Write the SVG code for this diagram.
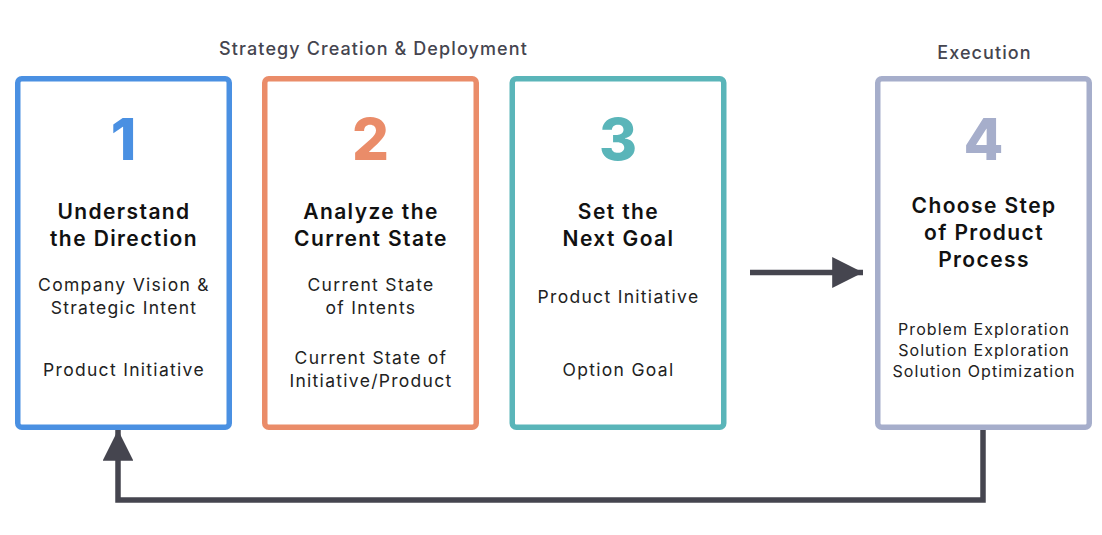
<svg xmlns="http://www.w3.org/2000/svg" width="1102" height="535" viewBox="0 0 1102 535">
  <style>
    .box { fill: #ffffff; stroke-width: 5.5; }
    .hdr { font-family: Inter, "Liberation Sans", sans-serif; font-size: 18px; font-weight: 500; fill: #45454f; text-anchor: middle; letter-spacing: 1.1px; }
    .num { font-family: Inter, "Liberation Sans", sans-serif; font-size: 58px; font-weight: 800; text-anchor: middle; }
    .ttl { font-family: Inter, "Liberation Sans", sans-serif; font-size: 21px; font-weight: 600; fill: #111111; text-anchor: middle; letter-spacing: 1.4px; }
    .body { font-family: Inter, "Liberation Sans", sans-serif; font-size: 17.5px; font-weight: 400; fill: #222222; text-anchor: middle; letter-spacing: 1.3px; }
    .sm { font-family: Inter, "Liberation Sans", sans-serif; font-size: 16px; font-weight: 400; fill: #222222; text-anchor: middle; letter-spacing: 1.05px; }
    .conn { fill: none; stroke: #45454f; stroke-width: 5.5; }
  </style>
  <defs>
    <marker id="arrow" viewBox="0 0 10 10" refX="10" refY="5" markerWidth="5.6" markerHeight="5.6" markerUnits="strokeWidth" orient="auto">
      <path d="M0,0 L10,5 L0,10 Z" fill="#45454f"/>
    </marker>
  </defs>

  <text class="hdr" x="373.5" y="55">Strategy Creation &amp; Deployment</text>
  <text class="hdr" x="984.5" y="59">Execution</text>

  <g id="node1">
    <rect class="box" x="17.75" y="78.75" width="211.5" height="348.5" rx="4" stroke="#4a90e2"/>
    <text class="num" x="123.5" y="160" fill="#4a90e2">1</text>
    <text class="ttl" x="124" y="219">Understand</text>
    <text class="ttl" x="124" y="246">the Direction</text>
    <text class="body" x="124" y="291">Company Vision &amp;</text>
    <text class="body" x="124" y="314">Strategic Intent</text>
    <text class="body" x="124" y="376">Product Initiative</text>
  </g>

  <g id="node2">
    <rect class="box" x="264.75" y="78.75" width="211.5" height="348.5" rx="4" stroke="#ea8c69"/>
    <text class="num" x="370.5" y="160" fill="#ea8c69">2</text>
    <text class="ttl" x="371" y="219">Analyze the</text>
    <text class="ttl" x="371" y="246">Current State</text>
    <text class="body" x="371" y="291">Current State</text>
    <text class="body" x="371" y="314">of Intents</text>
    <text class="body" x="371" y="364">Current State of</text>
    <text class="body" x="371" y="387">Initiative/Product</text>
  </g>

  <g id="node3">
    <rect class="box" x="512.25" y="78.75" width="211.5" height="348.5" rx="4" stroke="#5ab5b9"/>
    <text class="num" x="618" y="160" fill="#5ab5b9">3</text>
    <text class="ttl" x="618.5" y="219">Set the</text>
    <text class="ttl" x="618.5" y="246">Next Goal</text>
    <text class="body" x="618.5" y="303">Product Initiative</text>
    <text class="body" x="618.5" y="376">Option Goal</text>
  </g>

  <g id="node4">
    <rect class="box" x="877.75" y="78.75" width="211.5" height="348.5" rx="4" stroke="#a6aecb"/>
    <text class="num" x="983.5" y="160" fill="#a6aecb">4</text>
    <text class="ttl" x="984" y="213">Choose Step</text>
    <text class="ttl" x="984" y="240">of Product</text>
    <text class="ttl" x="984" y="267">Process</text>
    <text class="sm" x="984" y="335">Problem Exploration</text>
    <text class="sm" x="984" y="356">Solution Exploration</text>
    <text class="sm" x="984" y="377">Solution Optimization</text>
  </g>

  <g id="connectors">
    <path class="conn" d="M750 272.5 H863" marker-end="url(#arrow)"/>
    <path class="conn" d="M983 430 V500 H118 V430" marker-end="url(#arrow)"/>
  </g>
</svg>
